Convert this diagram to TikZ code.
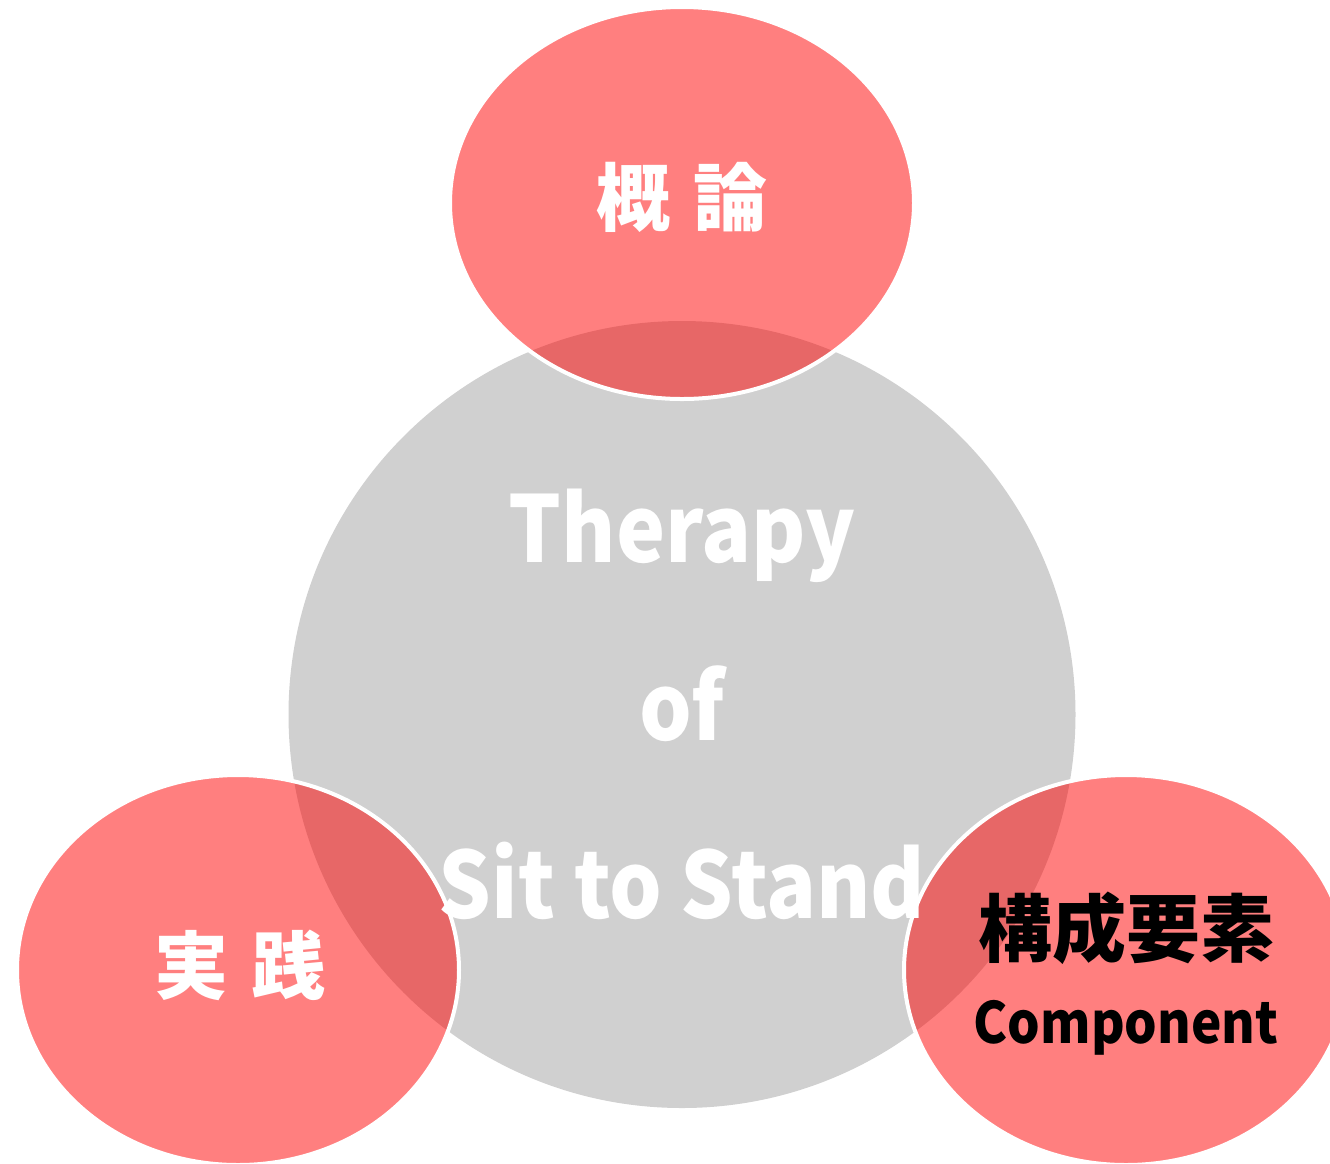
\documentclass[tikz,border=0pt]{standalone}
\usepackage{fontspec}
\newfontfamily\jp{Noto Sans CJK JP}
\newfontfamily\jpl{Noto Sans CJK JP}[FakeStretch=0.9]
\usetikzlibrary{shapes.geometric}
\definecolor{coregray}{RGB}{208,208,208}
\tikzset{
  petal/.style={ellipse, draw=white, line width=4pt, fill=red, fill opacity=0.5, draw opacity=1, inner sep=0pt},
  wtxt/.style={text=white, inner sep=0pt},
  btxt/.style={text=black, inner sep=0pt},
}
\begin{document}
\begin{tikzpicture}[x=1pt,y=-1pt]
\useasboundingbox (0,0) rectangle (1330,1163);
\clip (0,0) rectangle (1330,1163);
\node[circle, fill=coregray, minimum size=787pt, inner sep=0pt] (core) at (682,714.5) {};
\node[petal, minimum width=464pt, minimum height=392pt] (top) at (682,203) {};
\node[petal, minimum width=442pt, minimum height=390pt] (left) at (238,970) {};
\node[petal, minimum width=444pt, minimum height=390pt] (right) at (1126,970) {};
\node[wtxt, font=\jp\bfseries\fontsize{74}{74}\selectfont] (ttop) at (682,197) {概\hspace{0.3em}論};
\node[wtxt, font=\jp\bfseries\fontsize{74}{74}\selectfont] (tleft) at (240,965) {実\hspace{0.3em}践};
\node[btxt, font=\jp\bfseries\fontsize{74}{74}\selectfont] (tright) at (1126,928) {構成要素};
\node[btxt, font=\jpl\bfseries\fontsize{57}{57}\selectfont, anchor=base] (tcomp) at (1126,1043) {Component};
\node[wtxt, font=\jpl\bfseries\fontsize{92}{92}\selectfont, anchor=base] (l1) at (682,562) {Therapy};
\node[wtxt, font=\jpl\bfseries\fontsize{92}{92}\selectfont, anchor=base] (l2) at (682,740) {of};
\node[wtxt, font=\jpl\bfseries\fontsize{92}{92}\selectfont, anchor=base] (l3) at (682,918) {Sit to Stand};
\end{tikzpicture}
\end{document}
